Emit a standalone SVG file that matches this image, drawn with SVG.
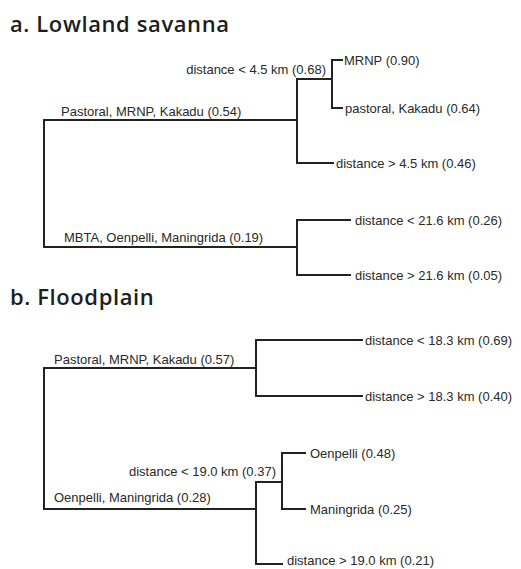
<svg xmlns="http://www.w3.org/2000/svg" width="521" height="569" viewBox="0 0 521 569">
<style>
.t{font-family:"Open Sans","DejaVu Sans",sans-serif;font-size:22px;fill:#1e1e1e;font-weight:600;letter-spacing:0.6px}
.l{font-family:"Liberation Sans",Arial,sans-serif;font-size:13px;fill:#2a2a2a}
.c{fill:none;stroke:#222;stroke-width:2;stroke-linecap:square}
.e{text-anchor:end}
</style>
<rect width="521" height="569" fill="#fff"/>
<text id="title-a" class="t" x="10" y="32">a. Lowland savanna</text>
<text id="title-b" class="t" x="10" y="305">b. Floodplain</text>
<g id="connectors">
<path class="c" d="M44,120 V247 M44,120 H297 M44,247 H297"/>
<path class="c" d="M297,79 V163 M297,79 H332 M297,163 H333"/>
<path class="c" d="M332,60 V108 M332,60 H342 M332,108 H342"/>
<path class="c" d="M297,220 V275 M297,220 H350 M297,275 H350"/>
<path class="c" d="M44,368 V509 M44,368 H256 M44,509 H256"/>
<path class="c" d="M256,340 V396 M256,340 H362 M256,396 H362"/>
<path class="c" d="M256,482 V564 M256,482 H282 M256,564 H282"/>
<path class="c" d="M282,453 V509 M282,453 H305 M282,509 H305"/>
</g>
<g id="a-pastoral"><text class="l" x="61" y="116">Pastoral, MRNP, Kakadu (0.54)</text></g>
<g id="a-mbta"><text class="l" x="64" y="242">MBTA, Oenpelli, Maningrida (0.19)</text></g>
<g id="a-dist-lt45"><text class="l e" x="326" y="74">distance &lt; 4.5 km (0.68)</text></g>
<g id="a-mrnp"><text class="l" x="344" y="65">MRNP (0.90)</text></g>
<g id="a-pastoral-kakadu"><text class="l" x="345" y="113">pastoral, Kakadu (0.64)</text></g>
<g id="a-dist-gt45"><text class="l" x="336" y="168">distance &gt; 4.5 km (0.46)</text></g>
<g id="a-dist-lt216"><text class="l" x="355" y="225">distance &lt; 21.6 km (0.26)</text></g>
<g id="a-dist-gt216"><text class="l" x="355" y="280">distance &gt; 21.6 km (0.05)</text></g>
<g id="b-pastoral"><text class="l" x="54" y="364">Pastoral, MRNP, Kakadu (0.57)</text></g>
<g id="b-oenpelli-maningrida"><text class="l" x="54" y="502">Oenpelli, Maningrida (0.28)</text></g>
<g id="b-dist-lt183"><text class="l" x="365" y="345">distance &lt; 18.3 km (0.69)</text></g>
<g id="b-dist-gt183"><text class="l" x="365" y="401">distance &gt; 18.3 km (0.40)</text></g>
<g id="b-dist-lt190"><text class="l e" x="276" y="476">distance &lt; 19.0 km (0.37)</text></g>
<g id="b-oenpelli"><text class="l" x="310" y="458">Oenpelli (0.48)</text></g>
<g id="b-maningrida"><text class="l" x="310" y="514">Maningrida (0.25)</text></g>
<g id="b-dist-gt190"><text class="l" x="287" y="565">distance &gt; 19.0 km (0.21)</text></g>
</svg>
